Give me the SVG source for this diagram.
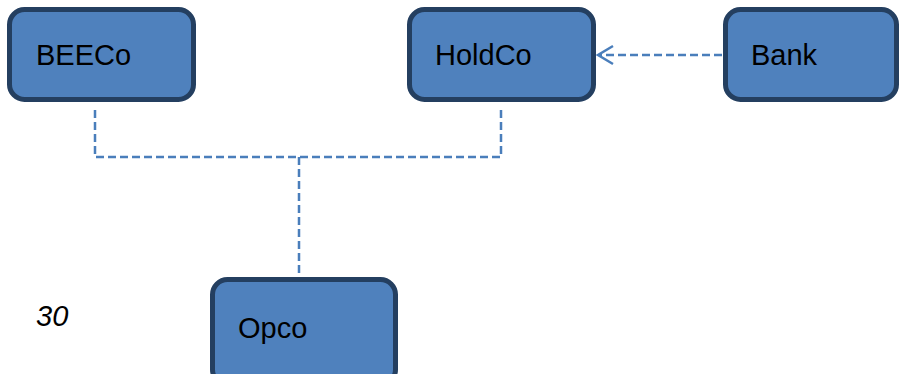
<svg xmlns="http://www.w3.org/2000/svg" width="900" height="374" viewBox="0 0 900 374">
<style>
.box{fill:#4F81BD;stroke:#243F60;stroke-width:5}
.lbl{font-family:"Liberation Sans",Arial,sans-serif;font-size:29px;fill:#000}
.con{fill:none;stroke:#4A7EBB;stroke-width:2.5;stroke-dasharray:8 4}
.head{fill:none;stroke:#4A7EBB;stroke-width:2.5}
</style>
<rect width="900" height="374" fill="#fff"/>
<g id="connectors">
<path class="con" d="M95,110 V157 H501 V110"/>
<path class="con" d="M299,157 V278"/>
<path class="con" d="M722,55 H599"/>
<path class="head" d="M613,46 L598,55 L613,64"/>
</g>
<g id="BEECo">
<rect class="box" x="9.5" y="9.5" width="184" height="90" rx="15"/>
<text class="lbl" x="36" y="65">BEECo</text>
</g>
<g id="HoldCo">
<rect class="box" x="409.5" y="9.5" width="184" height="90" rx="15"/>
<text class="lbl" x="435" y="65">HoldCo</text>
</g>
<g id="Bank">
<rect class="box" x="725.5" y="9.5" width="171" height="90" rx="15"/>
<text class="lbl" x="751" y="65">Bank</text>
</g>
<g id="Opco">
<rect class="box" x="212.5" y="279.5" width="183" height="105" rx="15"/>
<text class="lbl" x="238" y="338">Opco</text>
</g>
<text class="lbl" x="36" y="326" font-style="italic">30</text>
</svg>
